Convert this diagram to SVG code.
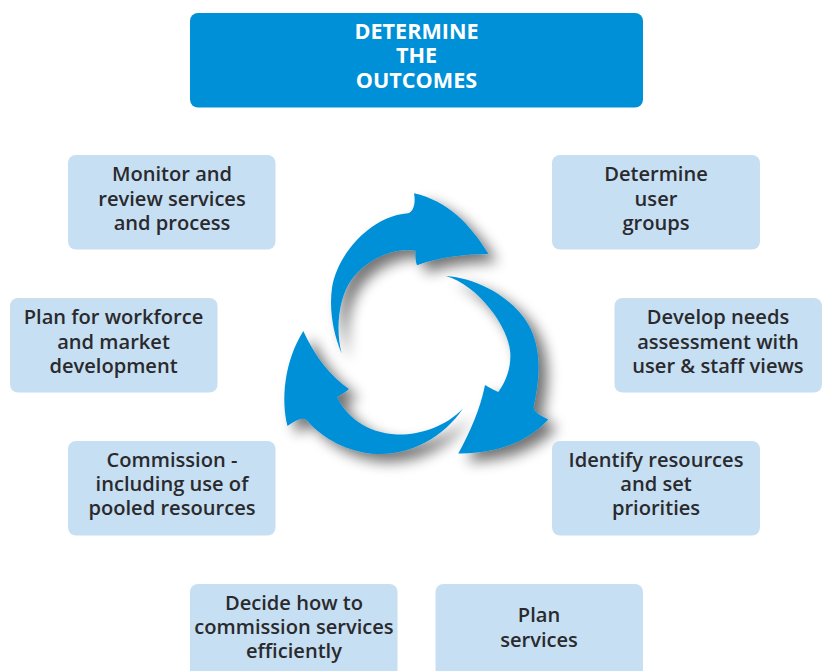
<svg xmlns="http://www.w3.org/2000/svg" width="828" height="671" viewBox="0 0 828 671">
<style>
.box{fill:#c7dff2}
.head{fill:#0090d7}
.t{font-family:"Open Sans","Noto Sans",sans-serif;font-weight:600;font-size:20.1px;fill:#2a2a2e;text-anchor:middle}
.w{font-family:"Open Sans","Noto Sans",sans-serif;font-weight:700;font-size:21.6px;fill:#fff;text-anchor:middle}
.arrow{fill:#0090d7}
</style>
<defs>
<filter id="sh" x="-25%" y="-25%" width="160%" height="160%">
<feGaussianBlur in="SourceAlpha" stdDeviation="7"/>
<feOffset dx="9" dy="8"/>
<feComponentTransfer><feFuncA type="linear" slope="0.55"/></feComponentTransfer>
<feMerge><feMergeNode/><feMergeNode in="SourceGraphic"/></feMerge>
</filter>
</defs>
<rect width="828" height="671" fill="#fff"/>
<g id="connectors">
<path class="arrow" filter="url(#sh)" d="M341.7 353.500C333 333 329 309 332 288C338 252 372 216 408 213.300C413 212 416 204 414 193.300C448 201 470 224 488.500 254C465 254 440 257 417 265.200C415.500 262 415 254 415.700 250.700C395 247 368 258 352 279C339 296 335 329 341.700 353.500Z"/>
<path class="arrow" filter="url(#sh)" d="M445.700 276C478 278 513 298 528 324C541 346 541 375 533.500 407C534 411 537 414 548.300 419.500C526 444 492 454 458.300 453.500C470 432 480 410 485 385C489 387 493 390 498.300 392C507 380 511 367 510.300 353C509 327 478 285 445.700 276Z"/>
<path class="arrow" filter="url(#sh)" d="M463 408.500C443 438 410 455 377 454C349 453 322 438 308.500 422C305 417 300 417 287.500 426C281 400 284 362 303.300 331C314 355 330 376 349 389C346 392 342 394 337 397C346 416 366 433 397 434.500C420 435 445 427 463 408.500Z"/>
</g>
<g id="outcomes"><rect class="head" x="190" y="13" width="453" height="94.500" rx="8"/>
<text class="w" x="416.500" y="39">DETERMINE</text><text class="w" x="416.500" y="63">THE</text><text class="w" x="416.500" y="87.500">OUTCOMES</text></g>
<g id="monitor"><rect class="box" x="68" y="155" width="207.500" height="94.500" rx="8"/>
<text class="t" x="172" y="181">Monitor and</text><text class="t" x="172" y="205.500">review services</text><text class="t" x="172" y="230">and process</text></g>
<g id="user-groups"><rect class="box" x="552" y="155" width="208" height="94.500" rx="8"/>
<text class="t" x="656" y="181">Determine</text><text class="t" x="656" y="205.500">user</text><text class="t" x="656" y="230">groups</text></g>
<g id="workforce"><rect class="box" x="10" y="298" width="207.500" height="94.500" rx="8"/>
<text class="t" x="113.500" y="324">Plan for workforce</text><text class="t" x="113.500" y="348.500">and market</text><text class="t" x="113.500" y="373">development</text></g>
<g id="needs"><rect class="box" x="614.500" y="298" width="207.500" height="94.500" rx="8"/>
<text class="t" x="718" y="324">Develop needs</text><text class="t" x="718" y="348.500">assessment with</text><text class="t" x="718" y="373">user &amp; staff views</text></g>
<g id="commission"><rect class="box" x="68" y="441" width="207.500" height="94.500" rx="8"/>
<text class="t" x="172" y="466.500">Commission -</text><text class="t" x="172" y="491">including use of</text><text class="t" x="172" y="515">pooled resources</text></g>
<g id="resources"><rect class="box" x="552" y="441" width="208" height="94.500" rx="8"/>
<text class="t" x="656" y="466.500">Identify resources</text><text class="t" x="656" y="491">and set</text><text class="t" x="656" y="515">priorities</text></g>
<g id="decide"><rect class="box" x="190" y="584" width="207.500" height="100" rx="8"/>
<text class="t" x="294" y="609.500">Decide how to</text><text class="t" x="294" y="634">commission services</text><text class="t" x="294" y="658">efficiently</text></g>
<g id="plan"><rect class="box" x="435.500" y="584" width="207.500" height="100" rx="8"/>
<text class="t" x="539" y="622">Plan</text><text class="t" x="539" y="646.500">services</text></g>
</svg>
